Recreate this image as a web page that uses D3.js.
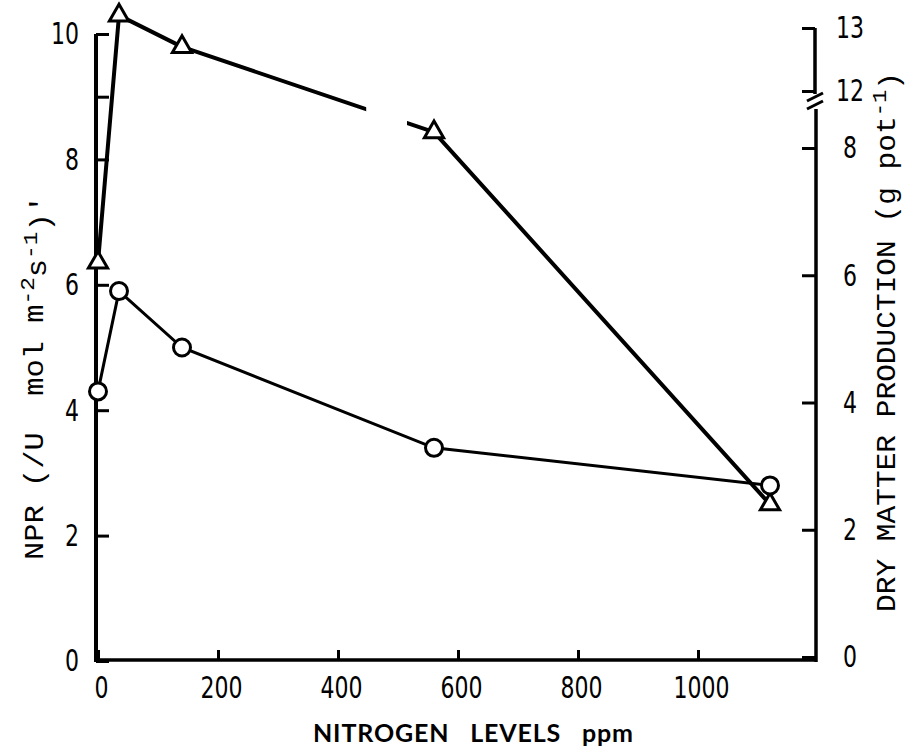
<!DOCTYPE html>
<html>
<head>
<meta charset="utf-8">
<script src="https://cdn.jsdelivr.net/npm/d3@7"></script>
<style>
  body { margin: 0; background: #fff; }
  .tick text { font-family: "Liberation Sans Narrow", "DejaVu Sans Condensed", sans-serif; font-size: 31px; fill: #000; }
  .mono { font-family: "Liberation Mono", "DejaVu Sans Mono", monospace; fill: #000; }
</style>
</head>
<body>
<div id="chart"></div>
<script>
// nitrogen levels (ppm)
const nitrogen = [0, 35, 140, 560, 1120];
// net photosynthetic rate, left axis (circles)
const npr = [4.3, 5.9, 5.0, 3.4, 2.8];
// dry matter production, right axis (triangles)
const dryMatter = [6.2, 13.2, 12.7, 8.25, 2.4];

const xTicks = [0, 200, 400, 600, 800, 1000];
const leftTicks = [0, 2, 4, 6, 8, 9, 10];
const leftLabels = [0, 2, 4, 6, 8, 10];
const rightTicks = [0, 2, 4, 6, 8, 12, 13];
// section of the triangle line that is left out where the right axis is broken
const lineGap = [447, 515];

const width = 905, height = 748;
const svg = d3.select('#chart').append('svg').attr('width', width).attr('height', height);

const x = d3.scaleLinear().domain([0, 1200]).range([98, 818]);
const yLeft = d3.scaleLinear().domain([0, 10]).range([661, 34]);
// broken axis: lower part 0..8.5, upper part 11.9..13
const yRight = d3.scaleLinear().domain([0, 8.5, 11.9, 13]).range([657, 116.2, 97.3, 28]);
const axisY = 660, leftX = 96, rightX = 815;

const fitDigits = sel => sel.each(function() {
  const t = d3.select(this).text();
  if (t) d3.select(this).attr('textLength', t.length * 14).attr('lengthAdjust', 'spacingAndGlyphs');
});

// X AXIS
const gx = svg.append('g').attr('transform', `translate(0,${axisY})`)
  .call(d3.axisBottom(x).tickValues(xTicks).tickFormat(d3.format('d')).tickSizeInner(-10).tickSizeOuter(0).tickPadding(16));
gx.select('.domain').attr('stroke-width', 3.5).attr('d', `M${leftX},0H${rightX + 2}`);
gx.selectAll('line').attr('stroke-width', 3);
gx.selectAll('text').attr('dx', 3).call(fitDigits);

// LEFT AXIS
const gl = svg.append('g').attr('transform', `translate(${leftX},0)`)
  .call(d3.axisLeft(yLeft).tickValues(leftTicks).tickSizeInner(-13).tickSizeOuter(0).tickPadding(17)
    .tickFormat(d => leftLabels.includes(d) ? d : ''));
gl.select('.domain').attr('stroke-width', 4).attr('d', `M0,${yLeft(10)}V${axisY + 2}`);
gl.selectAll('line').attr('stroke-width', 3);
gl.selectAll('text').call(fitDigits);

// RIGHT AXIS (broken between 8 and 12)
const gr = svg.append('g').attr('transform', `translate(${rightX},0)`)
  .call(d3.axisRight(yRight).tickValues(rightTicks).tickSizeInner(-13).tickSizeOuter(0).tickPadding(35));
gr.select('.domain').remove();
gr.selectAll('line').attr('stroke-width', 3);
gr.selectAll('text').attr('text-anchor', 'middle').call(fitDigits);
gr.append('path').attr('fill', 'none').attr('stroke', '#000').attr('stroke-width', 3.5)
  .attr('d', `M0,${yRight(13)}V${yRight(12) + 3}M1,${yRight(12) + 18}V${axisY + 2}`);
gr.selectAll('.brk').data([yRight(12) + 6, yRight(12) + 14]).enter().append('line').attr('class', 'brk')
  .attr('x1', -8).attr('x2', 8).attr('y1', d => d + 4).attr('y2', d => d - 4)
  .attr('stroke', '#000').attr('stroke-width', 3);

// LINES
const clip = svg.append('clipPath').attr('id', 'gap-clip');
clip.append('rect').attr('x', 0).attr('y', 0).attr('width', x(lineGap[0])).attr('height', height);
clip.append('rect').attr('x', x(lineGap[1])).attr('y', 0).attr('width', width - x(lineGap[1])).attr('height', height);

const triLine = d3.line().x((d, i) => x(nitrogen[i])).y(d => yRight(d));
svg.append('path').attr('d', triLine(dryMatter)).attr('fill', 'none')
  .attr('stroke', '#000').attr('stroke-width', 4).attr('stroke-linejoin', 'round')
  .attr('clip-path', 'url(#gap-clip)');

const circLine = d3.line().x((d, i) => x(nitrogen[i])).y(d => yLeft(d));
svg.append('path').attr('d', circLine(npr)).attr('fill', 'none')
  .attr('stroke', '#000').attr('stroke-width', 3);

// MARKERS
const tri = d3.symbol().type(d3.symbolTriangle).size(160);
svg.selectAll('.tri').data(dryMatter).enter().append('path').attr('class', 'tri')
  .attr('d', tri).attr('transform', (d, i) => `translate(${x(nitrogen[i])},${yRight(d)})`)
  .attr('fill', '#fff').attr('stroke', '#000').attr('stroke-width', 3);
svg.selectAll('.circ').data(npr).enter().append('circle').attr('class', 'circ')
  .attr('cx', (d, i) => x(nitrogen[i])).attr('cy', d => yLeft(d)).attr('r', 8.5)
  .attr('fill', '#fff').attr('stroke', '#000').attr('stroke-width', 3);

// AXIS TITLES
svg.append('text').attr('x', 313).attr('y', 742)
  .attr('font-family', 'Lato, "Open Sans", sans-serif').attr('font-weight', 'bold').attr('font-size', 25)
  .attr('textLength', 320).attr('lengthAdjust', 'spacing')
  .text('NITROGEN   LEVELS   ppm').style('white-space', 'pre');

const ll = svg.append('text').attr('class', 'mono').attr('font-size', 27)
  .attr('transform', 'translate(43,560) rotate(-90)')
  .attr('textLength', 365).attr('lengthAdjust', 'spacingAndGlyphs').style('white-space', 'pre');
ll.append('tspan').text('NPR (/U  mol m');
ll.append('tspan').attr('dy', '-0.45em').attr('font-size', '0.75em').text('-2');
ll.append('tspan').attr('dy', '0.45em').text('s');
ll.append('tspan').attr('dy', '-0.45em').attr('font-size', '0.75em').text('-1');
ll.append('tspan').attr('dy', '0.45em').text(")'");

const rl = svg.append('text').attr('class', 'mono').attr('font-size', 28)
  .attr('transform', 'translate(895,612) rotate(-90)')
  .attr('textLength', 540).attr('lengthAdjust', 'spacingAndGlyphs').style('white-space', 'pre');
rl.append('tspan').text('DRY MATTER PRODUCTION (g pot');
rl.append('tspan').attr('dy', '-0.45em').attr('font-size', '0.75em').text('-1');
rl.append('tspan').attr('dy', '0.45em').text(')');
</script>
</body>
</html>
